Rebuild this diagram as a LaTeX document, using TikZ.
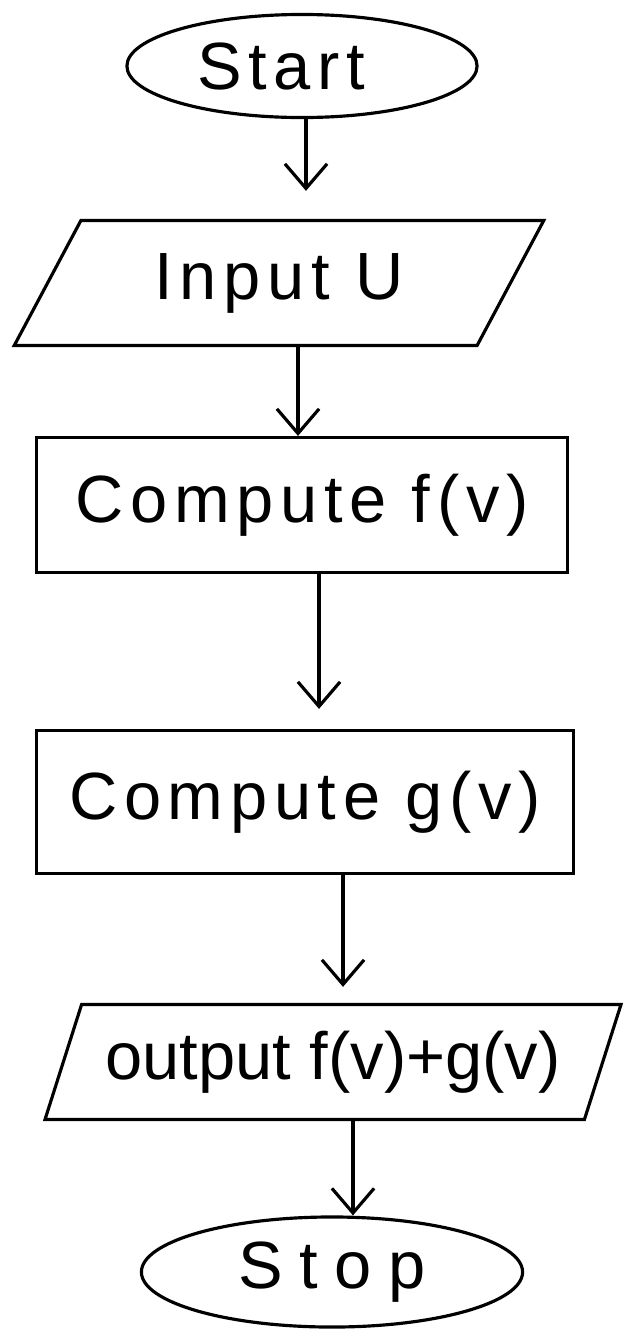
\documentclass[tikz,border=0pt]{standalone}
\usepackage{fontspec}
\setmainfont{Liberation Sans}
\usetikzlibrary{shapes.geometric,arrows.meta}

\begin{document}
\begin{tikzpicture}[x=0.01cm,y=-0.01cm,
  label font/.style={font=\fontsize{19}{23}\selectfont\addfontfeatures{LetterSpace=#1}},
  label font/.default=10,
  terminal/.style={draw,ellipse,line width=0.9pt,inner sep=0pt},
  io/.style={draw,trapezium,trapezium stretches=true,line width=0.9pt,inner sep=0pt},
  process/.style={draw,rectangle,line width=0.9pt,inner sep=0pt},
  flow/.style={line width=0.9pt,-{Straight Barb[length=7pt,width=12pt,line width=0.9pt]}}]
  \useasboundingbox[fill=white] (0,0) rectangle (628,1333);

  % flowchart boxes
  \node[terminal,label font,minimum width=3.5cm,minimum height=1.03cm] (start) at (302,66) {\hbox{Start\kern0.42cm}};
  \node[io,label font,trapezium left angle=55,trapezium right angle=125,
        minimum width=5.33cm,minimum height=1.25cm] (input) at (279,283) {Input U};
  \node[process,label font,minimum width=5.31cm,minimum height=1.35cm] (f) at (302,505) {Compute f(v)};
  \node[process,label font,minimum width=5.37cm,minimum height=1.43cm] (g) at (305,802) {Compute g(v)};
  \node[io,label font=0,trapezium left angle=62,trapezium right angle=118,
        minimum width=5.76cm,minimum height=1.15cm] (out) at (333,1062) {output f(v)+g(v)};
  \node[terminal,label font=25,minimum width=3.81cm,minimum height=1.1cm] (stop) at (332,1272) {Stop};

  % vertical guides for the connectors
  \coordinate (c1) at (306,0);
  \coordinate (c2) at (298,0);
  \coordinate (c3) at (319,0);
  \coordinate (c4) at (343,0);
  \coordinate (c5) at (353,0);

  % connectors
  \draw[flow,shorten >=0.28cm] (start.south -| c1) -- (input.north -| c1);
  \draw[flow] (input.south -| c2) -- (f.north -| c2);
  \draw[flow,shorten >=0.2cm] (f.south -| c3) -- (g.north -| c3);
  \draw[flow,shorten >=0.16cm] (g.south -| c4) -- (out.north -| c4);
  \draw[flow] (out.south -| c5) -- (stop.north -| c5);
\end{tikzpicture}
\end{document}
